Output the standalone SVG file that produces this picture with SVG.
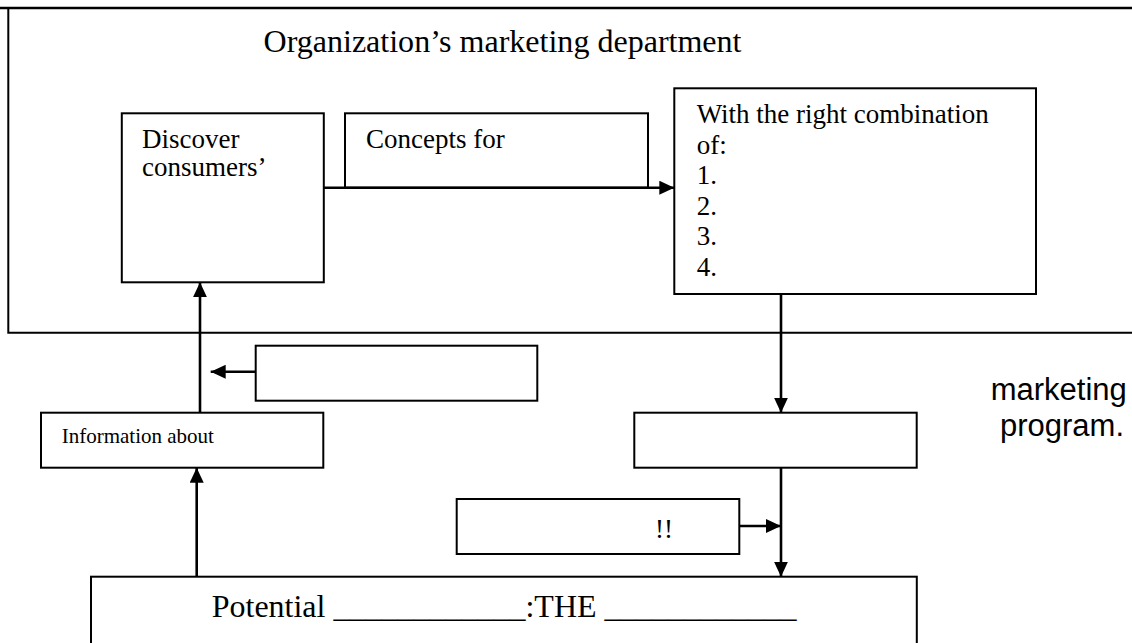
<svg xmlns="http://www.w3.org/2000/svg" width="1132" height="643" viewBox="0 0 1132 643">
  <style>
    .box { fill: #fff; stroke: #000; stroke-width: 2; }
    .frame { fill: none; stroke: #000; stroke-width: 2; }
    .conn { fill: none; stroke: #000; stroke-width: 2.6; marker-end: url(#arrow); }
    .serif { font-family: "Liberation Serif", "Times New Roman", serif; fill: #000; }
    .sans { font-family: "Liberation Sans", Arial, sans-serif; fill: #000; }
  </style>
  <defs>
    <marker id="arrow" markerUnits="userSpaceOnUse" markerWidth="16" markerHeight="15" refX="15" refY="7" orient="auto">
      <path d="M0,0 L15,7 L0,14 z" fill="#000"/>
    </marker>
  </defs>
  <rect x="0" y="0" width="1132" height="643" fill="#fff"/>

  <g id="department">
    <path class="frame" d="M1140,8 H8.3 V332.7 H1140"/>
    <line x1="0" y1="8" x2="1132" y2="8" stroke="#000" stroke-width="2.6"/>
    <text class="serif" x="263.5" y="52" font-size="32" textLength="478" lengthAdjust="spacingAndGlyphs">Organization’s marketing department</text>
  </g>

  <g id="discover">
    <rect class="box" x="121.8" y="113.3" width="202" height="169"/>
    <text class="serif" x="142" y="148" font-size="27">Discover</text>
    <text class="serif" x="142" y="176" font-size="27">consumers’</text>
  </g>

  <g id="concepts">
    <rect class="box" x="345" y="113.3" width="303" height="74.4"/>
    <text class="serif" x="366" y="148" font-size="27">Concepts for</text>
  </g>

  <g id="combination">
    <rect class="box" x="674.3" y="88.3" width="361.7" height="205.7"/>
    <text class="serif" x="696.7" y="123" font-size="27">With the right combination</text>
    <text class="serif" x="696.7" y="153.5" font-size="27">of:</text>
    <text class="serif" x="696.7" y="184" font-size="27">1.</text>
    <text class="serif" x="696.7" y="214.5" font-size="27">2.</text>
    <text class="serif" x="696.7" y="245" font-size="27">3.</text>
    <text class="serif" x="696.7" y="275.5" font-size="27">4.</text>
  </g>

  <g id="blank-left">
    <rect class="box" x="255.7" y="345.7" width="281.6" height="55"/>
  </g>

  <g id="information">
    <rect class="box" x="41" y="412.7" width="282.3" height="55"/>
    <text class="serif" x="61.7" y="443" font-size="21">Information about</text>
  </g>

  <g id="blank-right">
    <rect class="box" x="634.3" y="412.7" width="282.4" height="55"/>
  </g>

  <g id="exclaim">
    <rect class="box" x="456.7" y="499" width="282.6" height="55"/>
    <text class="serif" x="655" y="538" font-size="27">!!</text>
  </g>

  <g id="potential">
    <rect class="box" x="91" y="576.7" width="825.8" height="90"/>
    <text class="serif" x="211.7" y="617.3" font-size="32">Potential ____________:THE ____________</text>
  </g>

  <g id="note">
    <text class="sans" x="990.7" y="400" font-size="31">marketing</text>
    <text class="sans" x="1000" y="436" font-size="31">program.</text>
  </g>

  <g id="connectors">
    <path class="conn" d="M323.8,187.7 H674.3"/>
    <path class="conn" d="M781,294 V412.7"/>
    <path class="conn" d="M781,467.7 V576.7"/>
    <path class="conn" d="M739.3,526 H781"/>
    <path class="conn" d="M255.7,371.7 H210.7"/>
    <path class="conn" d="M200,412.7 V282.3"/>
    <path class="conn" d="M196.7,576.7 V467.7"/>
  </g>
</svg>
